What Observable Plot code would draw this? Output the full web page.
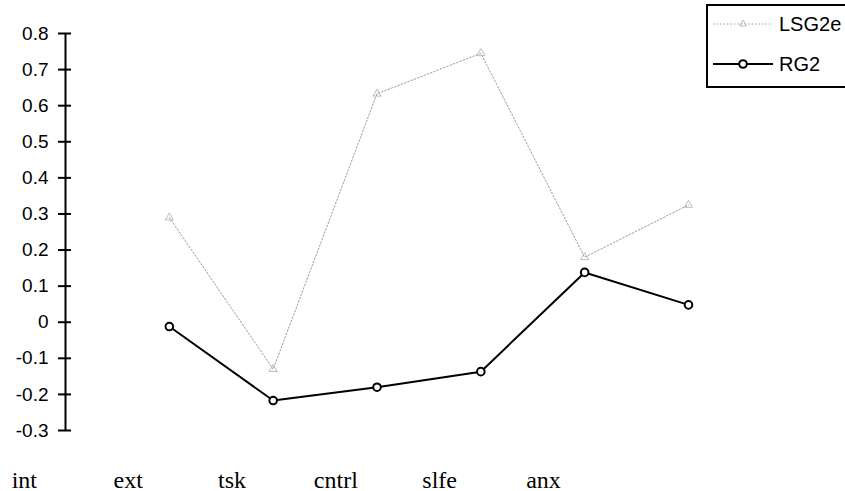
<!DOCTYPE html>
<html><head><meta charset="utf-8">
<script src="https://cdn.jsdelivr.net/npm/d3@7"></script>
<script src="https://cdn.jsdelivr.net/npm/@observablehq/plot@0.6"></script>
<style>
body{margin:0;background:#fff;width:845px;height:491px;overflow:hidden;position:relative}
#chart{position:absolute;left:0;top:0}
#legend{position:absolute;left:706px;top:4px;width:160px;height:84px;border:2px solid #000;box-sizing:border-box;font-family:"Liberation Sans",Arial,sans-serif;font-size:20px;background:#fff}
#legend .row{position:absolute;left:4px;height:24px;display:flex;align-items:center}
#legend .row span{margin-left:5px}
</style></head><body>
<div id="chart"></div>
<div id="legend"></div>
<script>
const categories = ["int", "ext", "tsk", "cntrl", "slfe", "anx"];
const lsg2e = [0.29, -0.13, 0.633, 0.745, 0.18, 0.325];
const rg2 = [-0.012, -0.217, -0.18, -0.137, 0.138, 0.048];
const yTicks = [-0.3, -0.2, -0.1, 0, 0.1, 0.2, 0.3, 0.4, 0.5, 0.6, 0.7, 0.8];
const seriesNames = ["LSG2e", "RG2"];

const idx = categories.map((_, i) => i);
const lsgData = idx.map(i => ({i, v: lsg2e[i]}));
const rgData = idx.map(i => ({i, v: rg2[i]}));
const origin = -1;

const chart = Plot.plot({
  width: 845,
  height: 491,
  marginLeft: 65,
  marginRight: 157,
  marginTop: 33,
  marginBottom: 61,
  style: {fontFamily: "'Liberation Sans', Arial, sans-serif", fontSize: "19px", background: "#fff"},
  x: {domain: [origin, categories.length - 1], axis: null, label: null},
  y: {domain: [yTicks[0], yTicks[yTicks.length - 1]], axis: null, label: null},
  marks: [
    Plot.axisY({ticks: yTicks, tickSize: 0, tickPadding: 17, fontSize: 19, fill: "#000", label: null,
      tickFormat: d => String(+d.toFixed(1))}),
    Plot.ruleX([origin], {stroke: "#000", strokeWidth: 2}),
    Plot.ruleY(yTicks, {x1: origin, x2: origin, insetLeft: -7, insetRight: -6, stroke: "#000", strokeWidth: 2}),
    Plot.line(lsgData, {x: "i", y: "v", stroke: "#9a9a9a", strokeWidth: 1, strokeDasharray: "1.5,2"}),
    Plot.dot(lsgData, {x: "i", y: "v", symbol: "triangle", r: 3, stroke: "#aaa", strokeWidth: 0.8, fill: "none"}),
    Plot.line(rgData, {x: "i", y: "v", stroke: "#000", strokeWidth: 2}),
    Plot.dot(rgData, {x: "i", y: "v", r: 3.8, stroke: "#000", strokeWidth: 2, fill: "#fff"}),
    Plot.text(categories, {x: (d, i) => i, text: d => d, frameAnchor: "bottom", dy: 57, dx: -145,
      fontFamily: "'Liberation Serif', 'Times New Roman', serif", fontSize: 24, fill: "#000"})
  ]
});
document.getElementById("chart").appendChild(chart);

// legend overlay
const legend = document.getElementById("legend");
const swatches = [
  `<svg width="62" height="20"><line x1="1" y1="10" x2="61" y2="10" stroke="#9a9a9a" stroke-width="1" stroke-dasharray="1.5,2"/><path d="M31,6 L34.5,12 L27.5,12 Z" fill="none" stroke="#aaa" stroke-width="0.8"/></svg>`,
  `<svg width="62" height="20"><line x1="1" y1="10" x2="61" y2="10" stroke="#000" stroke-width="2"/><circle cx="31" cy="10" r="3.8" fill="#fff" stroke="#000" stroke-width="2"/></svg>`
];
const rowTops = [6, 46];
seriesNames.forEach((name, k) => {
  const row = document.createElement("div");
  row.className = "row";
  row.style.top = rowTops[k] + "px";
  row.innerHTML = swatches[k] + `<span>${name}</span>`;
  legend.appendChild(row);
});
</script>
</body></html>
